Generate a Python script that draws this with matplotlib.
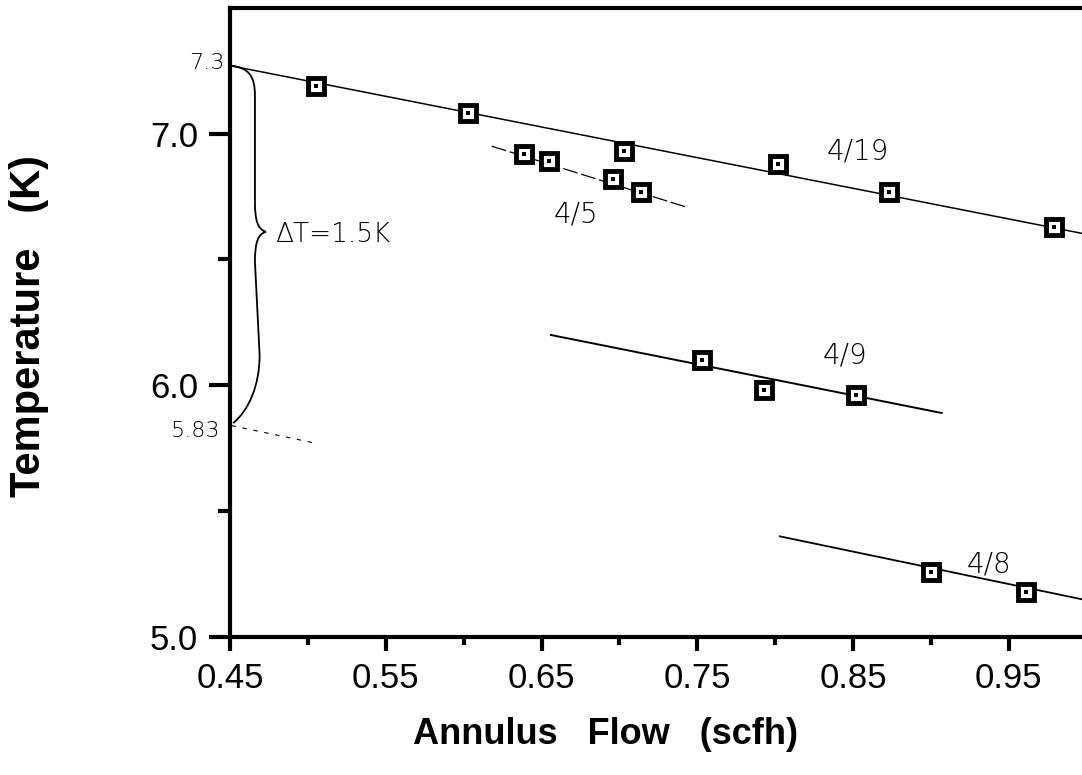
import numpy as np
import matplotlib
matplotlib.use("Agg")
import matplotlib.pyplot as plt
from matplotlib.path import Path
from matplotlib.patches import PathPatch
from matplotlib.ticker import FixedLocator

# ---- data ----
flow_419 = [0.505, 0.603, 0.703, 0.802, 0.873, 0.979]
temp_419 = [7.19, 7.08, 6.93, 6.88, 6.77, 6.63]
fit_419_x = [0.45, 1.0]
fit_419_y = [7.27, 6.60]

flow_45 = [0.639, 0.655, 0.696, 0.714]
temp_45 = [6.92, 6.89, 6.82, 6.77]
fit_45_x = [0.618, 0.742]
fit_45_y = [6.95, 6.71]

flow_49 = [0.753, 0.793, 0.852]
temp_49 = [6.10, 5.98, 5.96]
fit_49_x = [0.656, 0.907]
fit_49_y = [6.20, 5.89]

flow_48 = [0.900, 0.961]
temp_48 = [5.26, 5.18]
fit_48_x = [0.803, 0.997]
fit_48_y = [5.40, 5.15]

series_labels = ["4/19", "4/5", "4/9", "4/8"]
label_pos_x = [0.853, 0.672, 0.845, 0.937]
label_pos_y = [6.93, 6.68, 6.12, 5.29]

t_high = 7.27
t_low = 5.83
brace_tip_y = 6.61
delta_text = "ΔT=1.5K"
x_ticks = [0.45, 0.55, 0.65, 0.75, 0.85, 0.95]
x_tick_labels = ["0.45", "0.55", "0.65", "0.75", "0.85", "0.95"]
x_minor = [0.50, 0.60, 0.70, 0.80, 0.90]
y_ticks = [5.0, 6.0, 7.0]
y_tick_labels = ["5.0", "6.0", "7.0"]
y_minor = [5.5, 6.5]

plt.rcParams['font.family'] = ['Liberation Sans', 'DejaVu Sans']

fig = plt.figure(figsize=(10.82, 7.75), dpi=100)
ax = fig.add_axes([0.2126, 0.178, 0.7874, 0.812])
ax.set_xlim(0.45, 0.997)
ax.set_ylim(5.0, 7.5)

# fit lines
ax.plot(fit_419_x, fit_419_y, color='black', lw=1.1, zorder=2)
ax.plot(fit_45_x, fit_45_y, color='black', lw=0.9, dashes=(12, 3), zorder=2)
ax.plot(fit_49_x, fit_49_y, color='black', lw=1.4, zorder=2)
ax.plot(fit_48_x, fit_48_y, color='black', lw=1.3, zorder=2)

# data markers
for fx, ty in [(flow_419, temp_419), (flow_45, temp_45), (flow_49, temp_49), (flow_48, temp_48)]:
    ax.plot(fx, ty, ls='none', marker='s', ms=11.5, mew=3.5, mec='black', mfc='white', zorder=3)
    ax.plot(fx, ty, ls='none', marker='s', ms=2.5, mew=0, mfc='black', zorder=4)

hand = dict(family='DejaVu Sans', fontweight='light', color='black')

# hand-written series labels
for lab, lx, ly in zip(series_labels, label_pos_x, label_pos_y):
    ax.text(lx, ly, lab, fontsize=20, ha='center', va='center', zorder=5, **hand)

# curly brace for delta T
xb = 0.45
w1 = 0.016
wt = 0.023
tip = brace_tip_y
verts = [
    (xb + 0.001, t_high),
    (xb + 0.012, t_high - 0.01), (xb + w1, t_high - 0.04), (xb + w1, t_high - 0.12),
    (xb + w1, tip + 0.12),
    (xb + w1, tip + 0.04), (xb + w1 + 0.002, tip + 0.01), (xb + wt, tip),
    (xb + w1 + 0.002, tip - 0.01), (xb + w1, tip - 0.04), (xb + w1, tip - 0.12),
    (xb + w1 + 0.003, 6.12),
    (xb + w1 + 0.003, 6.0), (xb + 0.012, 5.90), (xb + 0.002, t_low + 0.02),
]
codes = ([Path.MOVETO] + [Path.CURVE4] * 3 + [Path.LINETO] + [Path.CURVE4] * 6
         + [Path.LINETO] + [Path.CURVE4] * 3)
ax.add_patch(PathPatch(Path(verts, codes), fill=False, lw=1.3, color='black', zorder=2,
                       clip_on=False))
ax.text(xb + wt + 0.006, tip - 0.01, delta_text, fontsize=19, ha='left', va='center', **hand)

# 5.83 extension (faint dashed)
ax.plot([0.451, 0.505], [t_low + 0.01, t_low - 0.06], color='black', lw=0.8, dashes=(4, 6),
        zorder=2)

# side annotations
ax.text(0.4465, t_high + 0.01, "7.3", fontsize=16, ha='right', va='center', clip_on=False, **hand)
ax.text(0.4435, t_low - 0.01, "5.83", fontsize=16, ha='right', va='center', clip_on=False, **hand)

# axes styling
ax.spines['right'].set_visible(False)
for s in ['left', 'bottom', 'top']:
    ax.spines[s].set_linewidth(3.0)
ax.xaxis.set_major_locator(FixedLocator(x_ticks))
ax.set_xticklabels(x_tick_labels)
ax.xaxis.set_minor_locator(FixedLocator(x_minor))
ax.yaxis.set_major_locator(FixedLocator(y_ticks))
ax.set_yticklabels(y_tick_labels)
ax.yaxis.set_minor_locator(FixedLocator(y_minor))
ax.tick_params(axis='x', which='major', direction='out', length=10, width=3, pad=8, labelsize=25)
ax.tick_params(axis='x', which='minor', direction='out', length=6, width=3)
ax.tick_params(axis='y', which='major', direction='out', length=15, width=3, pad=8, labelsize=25)
ax.tick_params(axis='y', which='minor', direction='out', length=9, width=3)

fig.text(0.56, 0.052, "Annulus   Flow   (scfh)", fontsize=26, fontweight='bold',
         ha='center', va='center')
fig.text(0.027, 0.579, "Temperature   (K)", fontsize=30, fontweight='bold',
         ha='center', va='center', rotation=90)

fig.savefig("out.png", dpi=100)
